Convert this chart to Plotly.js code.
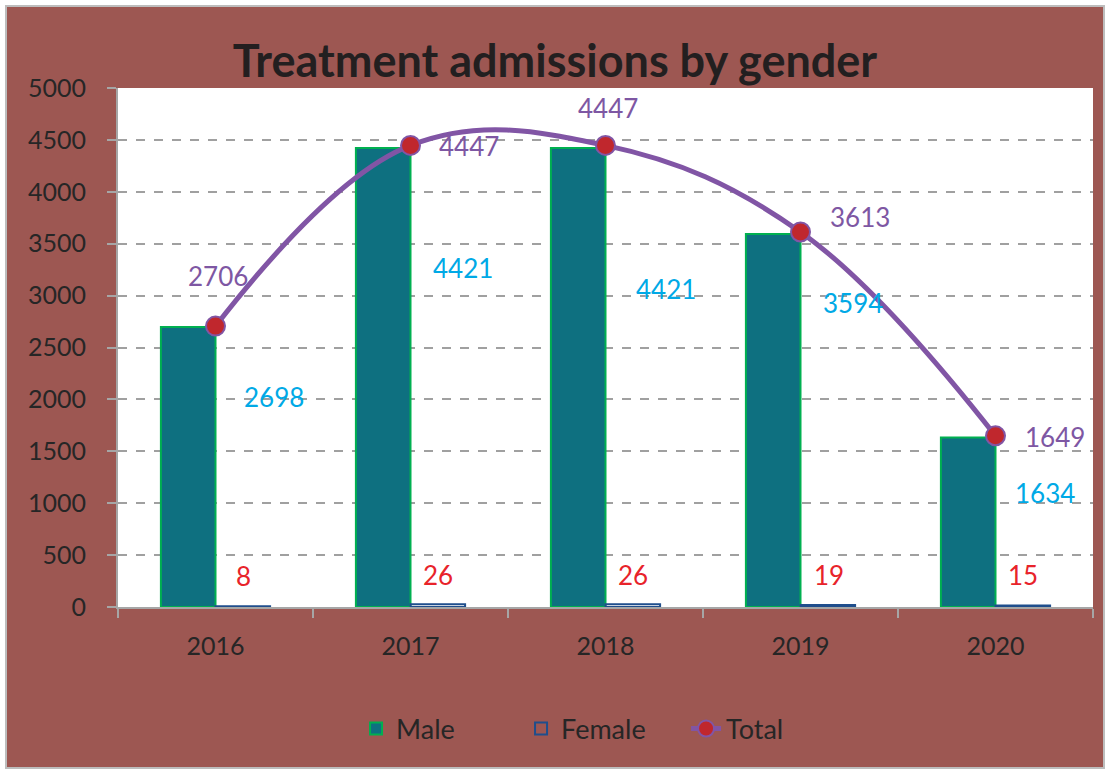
<!DOCTYPE html>
<html>
<head>
<meta charset="utf-8">
<script src="https://cdn.plot.ly/plotly-3.0.1.min.js"></script>
<style>
  html, body { margin: 0; padding: 0; background: #ffffff; width: 1109px; height: 772px; overflow: hidden; }
  #frame { position: absolute; left: 5px; top: 5px; width: 1096px; height: 760px; border: 2px solid #BDBDBD; }
  #chart { position: absolute; left: 0; top: 0; width: 1096px; height: 760px; }
</style>
</head>
<body>
<div id="frame"><div id="chart"></div></div>
<script>
// ---- data ----
const years = ["2016", "2017", "2018", "2019", "2020"];
const male = [2698, 4421, 4421, 3594, 1634];
const female = [8, 26, 26, 19, 15];
const total = [2706, 4447, 4447, 3613, 1649];
const yTicks = [0, 500, 1000, 1500, 2000, 2500, 3000, 3500, 4000, 4500, 5000];

// ---- label placement (pixel shifts / y anchors for the data labels) ----
const maleLabelPos = [[58, 2023], [52, 3266], [60, 3064], [52, 2929], [49, 1098]];
const femaleLabelPos = [[28, 299], [27, 308], [27, 308], [28, 308], [27, 308]];
const totalLabelPos = [[2, 3189], [58, 4441], [2, 4807], [59, 3757], [59, 1638]];

const FONT = "Lato, 'Open Sans', sans-serif";
const COL_MALE = "#0E7080";
const COL_MALE_LINE = "#00B050";
const COL_FEMALE_LINE = "#1F4E8C";
const COL_TOTAL = "#8155A5";
const COL_MARKER = "#C0272D";

const traces = [
  {
    type: "bar", name: "Male", x: years, y: male,
    marker: { color: COL_MALE, line: { color: COL_MALE_LINE, width: 2 } }
  },
  {
    type: "bar", name: "Female", x: years, y: female,
    marker: { color: "rgba(0,0,0,0)", line: { color: COL_FEMALE_LINE, width: 2 } }
  },
  {
    type: "scatter", mode: "lines+markers", name: "Total", x: years, y: total,
    line: { color: COL_TOTAL, width: 5, shape: "spline", smoothing: 1.1 },
    marker: { color: COL_MARKER, size: 19, line: { color: COL_TOTAL, width: 2 } }
  }
];

const annotations = [];
years.forEach((yr, i) => {
  annotations.push({ xref: "x", yref: "y", x: i, y: maleLabelPos[i][1], xshift: maleLabelPos[i][0], text: String(male[i]),
    showarrow: false, font: { family: FONT, size: 26, color: "#00A9E6" }, xanchor: "center", yanchor: "middle" });
  annotations.push({ xref: "x", yref: "y", x: i, y: femaleLabelPos[i][1], xshift: femaleLabelPos[i][0], text: String(female[i]),
    showarrow: false, font: { family: FONT, size: 26, color: "#E8232A" }, xanchor: "center", yanchor: "middle" });
  annotations.push({ xref: "x", yref: "y", x: i, y: totalLabelPos[i][1], xshift: totalLabelPos[i][0], text: String(total[i]),
    showarrow: false, font: { family: FONT, size: 26, color: "#7E57A3" }, xanchor: "center", yanchor: "middle" });
});

const layout = {
  width: 1096, height: 760,
  paper_bgcolor: "#9D5752",
  plot_bgcolor: "#FFFFFF",
  margin: { l: 111, r: 10, t: 81, b: 160, pad: 0 },
  title: {
    text: "<b>Treatment admissions by gender</b>",
    font: { family: FONT, size: 45, color: "#231F20" },
    x: 0.5, xref: "container", xanchor: "center",
    y: 1 - 54 / 760, yref: "container", yanchor: "middle"
  },
  barmode: "group",
  bargap: 0.44,
  bargroupgap: 0,
  showlegend: true,
  legend: {
    orientation: "h", x: 0.498, xanchor: "center", y: -0.235, yanchor: "middle",
    font: { family: FONT, size: 27, color: "#262626" },
    bgcolor: "rgba(0,0,0,0)", traceorder: "normal",
    entrywidth: 120, entrywidthmode: "pixels"
  },
  xaxis: {
    type: "category",
    categoryorder: "array", categoryarray: years,
    range: [-0.5, years.length - 0.5],
    autorange: false,
    showgrid: false,
    showline: true, linecolor: "#A6A6A6", linewidth: 2,
    ticks: "outside", tickson: "boundaries", ticklen: 9, tickcolor: "#A6A6A6", tickwidth: 2,
    tickfont: { family: FONT, size: 25, color: "#262626" },
    tickangle: 0,
    ticklabelstandoff: 16,
    zeroline: false, fixedrange: true
  },
  yaxis: {
    range: [0, 5000], autorange: false,
    tickvals: yTicks,
    ticktext: yTicks.map(String),
    showgrid: true, gridcolor: "#A0A0A0", gridwidth: 2, griddash: "dash",
    showline: true, linecolor: "#A6A6A6", linewidth: 2,
    ticks: "outside", ticklen: 9, tickcolor: "#A6A6A6", tickwidth: 2,
    tickfont: { family: FONT, size: 25, color: "#262626" },
    ticklabelstandoff: 16,
    zeroline: false, fixedrange: true
  },
  annotations: annotations,
  hovermode: false
};

Plotly.newPlot("chart", traces, layout, { displayModeBar: false, staticPlot: true });
</script>
</body>
</html>
